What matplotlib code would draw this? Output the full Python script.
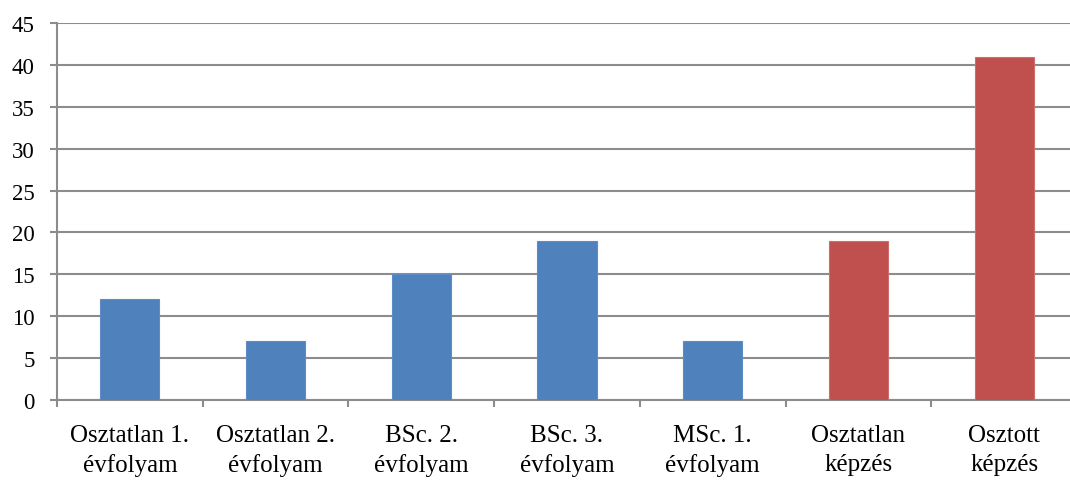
import matplotlib
matplotlib.use("Agg")
import matplotlib.pyplot as plt
import numpy as np

categories = ["Osztatlan 1.\névfolyam", "Osztatlan 2.\névfolyam", "BSc. 2.\névfolyam",
              "BSc. 3.\névfolyam", "MSc. 1.\névfolyam", "Osztatlan\nképzés", "Osztott\nképzés"]
values = [12, 7, 15, 19, 7, 19, 41]
groups = ["year", "year", "year", "year", "year", "total", "total"]
yticks = [0, 5, 10, 15, 20, 25, 30, 35, 40, 45]

fill = {"year": "#4F81BD", "total": "#C0504D"}
edge = {"year": "#5E8CC4", "total": "#CE6E6B"}

plt.rcParams["font.family"] = ["Liberation Serif", "DejaVu Serif"]

fig = plt.figure(figsize=(10.70, 4.81), dpi=100)
ax = fig.add_axes([57 / 1070, 1 - 401 / 481, 1020 / 1070, 377 / 481])

x = np.arange(len(categories))
ax.bar(x, values, width=0.405, color=[fill[g] for g in groups],
       edgecolor=[edge[g] for g in groups], linewidth=0.8, zorder=3)

ax.set_xlim(-0.5, len(categories) - 0.5)
ax.set_ylim(0, 45)
ax.set_yticks(yticks)
ax.tick_params(axis="y", labelsize=16.5, length=5, width=1.5, color="#8C8C8C", pad=11)

ax.set_xticks(x)
ax.set_xticklabels(categories, fontsize=18, linespacing=1.42)
ax.tick_params(axis="x", which="major", length=0, pad=17)
ax.set_xticks(np.arange(-0.5, len(categories) + 0.5, 1), minor=True)
ax.tick_params(axis="x", which="minor", length=5, width=1.5, color="#8C8C8C")

ax.grid(axis="y", color="#8C8C8C", linewidth=1.5, zorder=0)
for s in ["top", "right"]:
    ax.spines[s].set_visible(False)
for s in ["left", "bottom"]:
    ax.spines[s].set_color("#8C8C8C")
    ax.spines[s].set_linewidth(1.5)

fig.savefig("out.png", dpi=100)
